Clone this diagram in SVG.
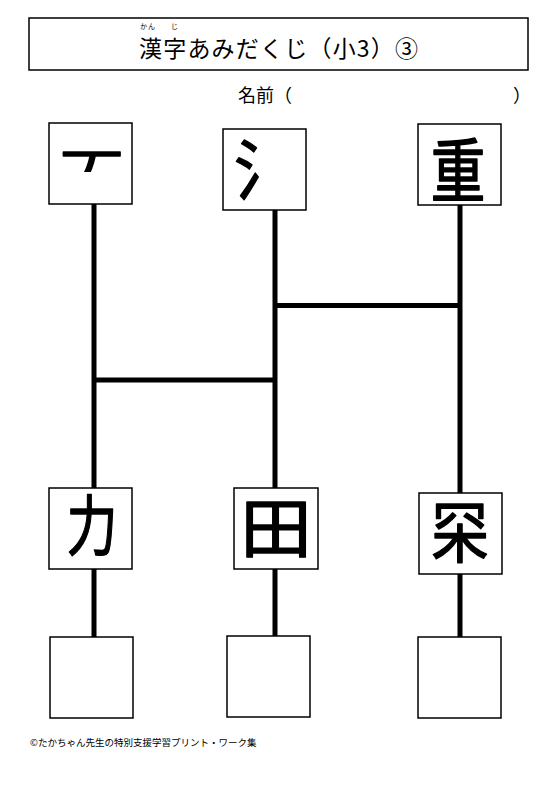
<svg xmlns="http://www.w3.org/2000/svg" width="553" height="791" viewBox="0 0 553 791">
<style>
.box{fill:#fff;stroke:#000;stroke-width:1.5}
.rail{stroke:#000;stroke-width:5;fill:none}
.t{font-family:"Noto Sans CJK JP","Noto Sans",sans-serif;fill:#000}
.k{font-family:"Noto Sans CJK JP",sans-serif;font-size:60px;font-weight:400;fill:#000;stroke:#000;stroke-width:1.3;stroke-linejoin:round;text-anchor:middle}
</style>
<defs>
<clipPath id="clipPiece"><rect x="50" y="124" width="82" height="48"/></clipPath>
</defs>
<rect width="553" height="791" fill="#fff"/>
<g id="title">
<rect class="box" x="29" y="18" width="499" height="52"/>
<text class="t" x="139" y="57" font-size="23" textLength="279" lengthAdjust="spacing">漢字あみだくじ（小3）③</text>
<text class="t" x="140" y="29" font-size="7">か</text>
<text class="t" x="148" y="29" font-size="7">ん</text>
<text class="t" x="171" y="29" font-size="7">じ</text>
</g>
<g id="name">
<text class="t" x="238" y="102" font-size="18">名前（</text>
<text class="t" x="513" y="102" font-size="18">）</text>
</g>
<g id="connectors">
<line class="rail" x1="94" y1="204" x2="94" y2="637"/>
<line class="rail" x1="275" y1="210" x2="275" y2="636"/>
<line class="rail" x1="460" y1="205" x2="460" y2="637"/>
<line class="rail" x1="275" y1="305.5" x2="460" y2="305.5"/>
<line class="rail" x1="94" y1="380" x2="275" y2="380"/>
</g>
<g id="top1">
<rect class="box" x="49" y="123" width="83" height="81"/>
<g clip-path="url(#clipPiece)"><text class="k" transform="translate(92,153) scale(1.08,1)" x="0" y="45">丆</text></g>
</g>
<g id="top2">
<rect class="box" x="223" y="129" width="83" height="81"/>
<text class="k" transform="translate(264,169) scale(1,1.1)" x="0" y="23">氵</text>
</g>
<g id="top3">
<rect class="box" x="418" y="124" width="83" height="81"/>
<text class="k" transform="translate(458,170) scale(0.91,1.18)" x="0" y="23">重</text>
</g>
<g id="mid1">
<rect class="box" x="49" y="488" width="83" height="81"/>
<text class="k" transform="translate(92,525) scale(0.85,1.1)" x="0" y="23">力</text>
</g>
<g id="mid2">
<rect class="box" x="234" y="488" width="84" height="81"/>
<text class="k" transform="translate(276,527) scale(1.2,1.08)" x="0" y="23">田</text>
</g>
<g id="mid3">
<rect class="box" x="419" y="493" width="83" height="81"/>
<text class="k" transform="translate(460,531) scale(0.98,1.12)" x="0" y="23">罙</text>
</g>
<g id="bottom1"><rect class="box" x="50" y="637" width="83" height="81"/></g>
<g id="bottom2"><rect class="box" x="227" y="636" width="83" height="81"/></g>
<g id="bottom3"><rect class="box" x="418" y="637" width="83" height="81"/></g>
<g id="footer">
<text class="t" x="30" y="746" font-size="9.5">©たかちゃん先生の特別支援学習プリント・ワーク集</text>
</g>
</svg>
